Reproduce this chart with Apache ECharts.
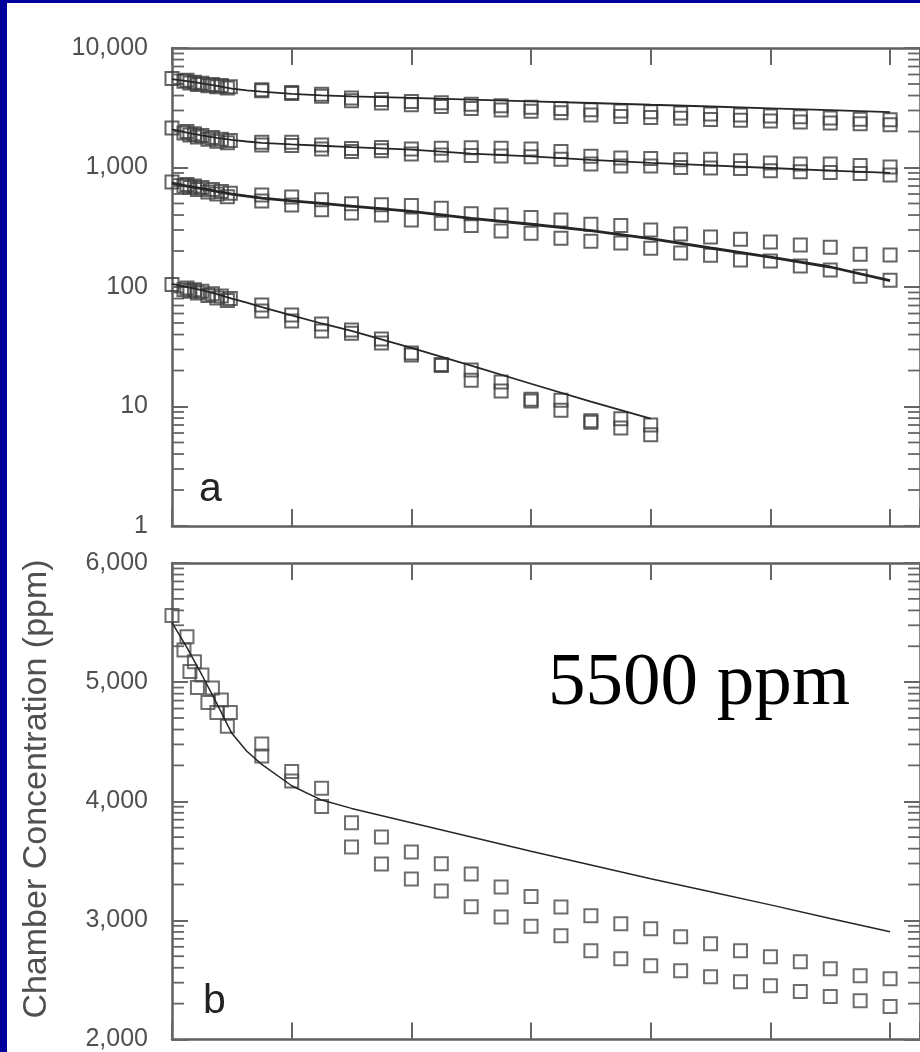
<!DOCTYPE html>
<html><head><meta charset="utf-8">
<script src="https://cdn.jsdelivr.net/npm/echarts@6/dist/echarts.min.js"></script>
<style>
html,body{margin:0;padding:0;background:#00009c;width:920px;height:1052px;overflow:hidden;}
#chart{position:absolute;left:7px;top:3px;width:913px;height:1049px;background:#fff;}
</style></head><body><div id="chart"></div>
<script>
// ---- data (time in hours, concentration in ppm) ----
const timesA = [0, 0.5, 0.75, 1.0, 1.35, 1.65, 1.95, 3, 4, 5, 6, 7, 8, 9, 10, 11, 12, 13, 14, 15, 16, 17, 18, 19, 20, 21, 22, 23, 24];
const timesB = [0.4, 0.6, 0.85, 1.2, 1.5, 1.85, 3, 4, 5, 6, 7, 8, 9, 10, 11, 12, 13, 14, 15, 16, 17, 18, 19, 20, 21, 22, 23, 24];
const fitTimes = [0, 0.5, 1, 1.5, 2, 2.5, 3, 4, 5, 6, 8, 10, 12, 14, 16, 18, 20, 22, 24];
const fitTimes4 = [0, 0.5, 1, 1.5, 2, 2.5, 3, 4, 5, 6, 8, 10, 12, 14, 16];

// 5500 ppm run (panel a top group and panel b)
const run5500A = [5560, 5380, 5170, 5060, 4950, 4850, 4745, 4480, 4250, 4110, 3820, 3700, 3575, 3475, 3390, 3280, 3200, 3113, 3038, 2971, 2929, 2862, 2803, 2745, 2695, 2653, 2594, 2536, 2510];
const run5500B = [5270, 5090, 4955, 4830, 4745, 4630, 4380, 4170, 3955, 3615, 3473, 3347, 3247, 3115, 3029, 2950, 2870, 2745, 2678, 2619, 2577, 2527, 2485, 2452, 2402, 2360, 2326, 2276];
const fit5500 = [5500, 5290, 5060, 4820, 4570, 4420, 4310, 4130, 4010, 3940, 3820, 3700, 3580, 3465, 3350, 3240, 3130, 3015, 2905];

// ~2000 ppm run
const run2000A = [2140, 2000, 1920, 1850, 1780, 1720, 1680, 1630, 1630, 1540, 1440, 1470, 1430, 1450, 1460, 1450, 1430, 1360, 1240, 1200, 1190, 1160, 1170, 1140, 1090, 1070, 1070, 1040, 1010];
const run2000B = [1940, 1870, 1800, 1720, 1660, 1610, 1540, 1530, 1430, 1360, 1380, 1300, 1270, 1260, 1250, 1230, 1170, 1070, 1030, 1030, 1000, 990, 980, 940, 920, 910, 890, 865];
const fit2000 = [2080, 1960, 1860, 1770, 1700, 1650, 1610, 1560, 1520, 1480, 1410, 1305, 1240, 1160, 1095, 1040, 990, 940, 900];

// ~700 ppm run
const run700A = [757, 720, 700, 680, 655, 630, 610, 589, 566, 536, 497, 487, 480, 455, 410, 400, 382, 364, 335, 327, 300, 278, 262, 251, 238, 225, 215, 188, 185];
const run700B = [700, 680, 655, 625, 600, 570, 525, 486, 442, 416, 400, 364, 342, 327, 294, 282, 256, 242, 233, 211, 193, 184, 168, 165, 150, 139, 123, 114];
const fit700 = [740, 700, 665, 630, 600, 575, 555, 525, 500, 475, 430, 375, 335, 296, 254, 212, 178, 147, 113];

// ~100 ppm run (to 16 h)
const run100A = [105, 98, 95, 92, 88, 84, 80, 70.6, 58.3, 49, 43.6, 36.7, 28, 22.5, 20.2, 16, 11.5, 11.3, 7.6, 7.9, 7.0];
const run100B = [95, 92, 89, 85, 81, 77, 63, 51.9, 42.8, 41, 34, 27, 22, 16.6, 13.5, 11.1, 9.3, 7.4, 6.6, 5.8];
const fit100 = [106, 100, 94, 87, 80, 74, 68, 58, 49.5, 43, 31, 22, 15.5, 11, 7.9];

const logTickLabels = [1, 10, 100, 1000, 10000];
const linTickLabels = [2000, 3000, 4000, 5000, 6000];

// ---- helpers ----
const pts = (ts, vs) => vs.map((v, i) => [ts[i], v]);
const X_MAX = 25;
const fmt = v => Math.round(v).toLocaleString('en-US');
const AX = '#5e5e5e';
const TK = '#666';

const sq = (xi, yi, data, col) => ({
  type: 'scatter', xAxisIndex: xi, yAxisIndex: yi, data,
  symbol: 'rect', symbolSize: 13, silent: true, z: 3,
  itemStyle: { color: 'rgba(255,255,255,0)', borderColor: col, borderWidth: 2 }
});
const fitLine = (xi, yi, data, w) => ({
  type: 'line', xAxisIndex: xi, yAxisIndex: yi, data,
  symbol: 'none', silent: true, z: 4,
  lineStyle: { color: '#262626', width: w }
});

// minor ticks (log-decade pattern, as on the original axes)
const mults = [2, 3, 4, 5, 6, 7, 8, 9];
const minorA = [];
[1, 10, 100, 1000].forEach(d => mults.forEach(m => minorA.push([0, m * d])));
const minorB = [];
[2000, 3000, 4000, 5000].forEach(b => mults.forEach(m => minorB.push([0, b + 1000 * Math.log10(m)])));
const tickSeries = (xi, yi, data) => ({
  type: 'custom', xAxisIndex: xi, yAxisIndex: yi, data, silent: true, clip: false, z: 2,
  renderItem: (params, api) => {
    const v = api.value(1);
    const a = api.coord([0, v]);
    const b = api.coord([X_MAX, v]);
    const st = { stroke: TK, lineWidth: 1.8 };
    return { type: 'group', children: [
      { type: 'line', shape: { x1: a[0], y1: a[1], x2: a[0] + 12, y2: a[1] }, style: st },
      { type: 'line', shape: { x1: b[0], y1: b[1], x2: b[0] - 12, y2: b[1] }, style: st }
    ]};
  }
});

const xAx = (gi, pos) => ({
  type: 'value', gridIndex: gi, position: pos, min: 0, max: X_MAX, interval: 4,
  axisLine: { show: true, lineStyle: { color: AX, width: 2.5 } },
  axisTick: { show: true, inside: true, length: 17, lineStyle: { color: TK, width: 2 } },
  axisLabel: { show: false }, splitLine: { show: false }
});
const yLabel = {
  fontFamily: 'Liberation Sans', fontSize: 25, color: '#505050', margin: 24,
  padding: [0, 0, 9, 0], formatter: fmt
};
const yCommon = (gi, pos, showLabel) => ({
  gridIndex: gi, position: pos,
  axisLine: { show: true, onZero: false, lineStyle: { color: AX, width: 2.5 } },
  axisTick: { show: true, inside: true, length: 16, lineStyle: { color: TK, width: 2 } },
  axisLabel: showLabel ? yLabel : { show: false },
  splitLine: { show: false }, minorTick: { show: false }
});

const SQA = '#3c3c3c';
const SQB = '#4a4a4a';

const chart = echarts.init(document.getElementById('chart'));
chart.setOption({
  animation: false,
  backgroundColor: '#fff',
  grid: [
    { left: 165, top: 45, width: 756, height: 478 },
    { left: 165, top: 560, width: 756, height: 478 }
  ],
  xAxis: [xAx(0, 'bottom'), xAx(0, 'top'), xAx(1, 'bottom'), xAx(1, 'top')],
  yAxis: [
    Object.assign(yCommon(0, 'left', true), { type: 'log', logBase: 10, min: logTickLabels[0], max: logTickLabels[logTickLabels.length - 1] }),
    Object.assign(yCommon(0, 'right', false), { type: 'log', logBase: 10, min: logTickLabels[0], max: logTickLabels[logTickLabels.length - 1] }),
    Object.assign(yCommon(1, 'left', true), { type: 'value', min: linTickLabels[0], max: linTickLabels[linTickLabels.length - 1], interval: 1000 }),
    Object.assign(yCommon(1, 'right', false), { type: 'value', min: linTickLabels[0], max: linTickLabels[linTickLabels.length - 1], interval: 1000 })
  ],
  series: [
    tickSeries(0, 0, minorA),
    tickSeries(2, 2, minorB),
    // panel a
    sq(0, 0, pts(timesA, run5500A), SQA), sq(0, 0, pts(timesB, run5500B), SQA), fitLine(0, 0, pts(fitTimes, fit5500), 1.8),
    sq(0, 0, pts(timesA, run2000A), SQA), sq(0, 0, pts(timesB, run2000B), SQA), fitLine(0, 0, pts(fitTimes, fit2000), 1.8),
    sq(0, 0, pts(timesA, run700A), SQA), sq(0, 0, pts(timesB, run700B), SQA), fitLine(0, 0, pts(fitTimes, fit700), 2.8),
    sq(0, 0, pts(timesA, run100A), SQA), sq(0, 0, pts(timesB, run100B), SQA), fitLine(0, 0, pts(fitTimes4, fit100), 1.8),
    // panel b
    sq(2, 2, pts(timesA, run5500A), SQB), sq(2, 2, pts(timesB, run5500B), SQB), fitLine(2, 2, pts(fitTimes, fit5500), 1.5)
  ],
  graphic: [
    { type: 'text', x: 30, y: 786, rotation: Math.PI / 2, silent: true,
      style: { text: 'Chamber Concentration (ppm)', fontFamily: 'Liberation Sans', fontSize: 34, fill: '#505050', align: 'center', verticalAlign: 'middle' } },
    { type: 'text', x: 192, y: 487, silent: true,
      style: { text: 'a', fontFamily: 'Liberation Sans', fontSize: 41, fill: '#222', align: 'left', verticalAlign: 'middle' } },
    { type: 'text', x: 196, y: 999, silent: true,
      style: { text: 'b', fontFamily: 'Liberation Sans', fontSize: 41, fill: '#222', align: 'left', verticalAlign: 'middle' } },
    { type: 'text', x: 541, y: 681, silent: true,
      style: { text: '5500 ppm', fontFamily: 'Liberation Serif', fontSize: 75, fill: '#000', align: 'left', verticalAlign: 'middle' } }
  ]
});
</script></body></html>
